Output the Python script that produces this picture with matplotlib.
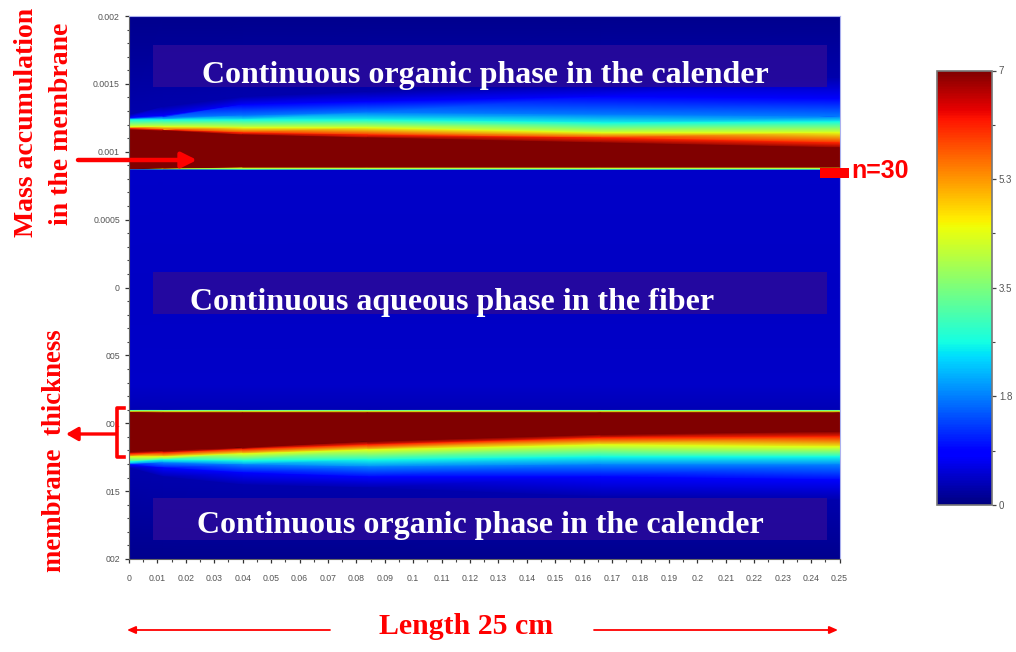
import numpy as np
import matplotlib
matplotlib.use('Agg')
import matplotlib.pyplot as plt
from matplotlib.patches import Rectangle

# axial stations along the fiber (m)
stations = [0, 0.012, 0.04, 0.084, 0.166, 0.25]

# concentration carried by each row of the mesh, top to bottom
row_levels = [0.1, 0.3, 0.9, 1.75, 2.6, 4.4, 6.1, 7, 7, 4.4, 3.0, 0.46, 0.43, 0.46, 0.34, 0.34,
              3.0, 4.4, 7, 7, 6.1, 4.4, 2.6, 1.75, 0.9, 0.3, 0.1]

# radial position (mm) of each row at each station
r_top = [2.0, 2.0, 2.0, 2.0, 2.0, 2.0]
r_upper_03 = [1.271, 1.329, 1.403, 1.440, 1.492, 1.543]
r_upper_09 = [1.249, 1.263, 1.344, 1.366, 1.403, 1.388]
r_upper_17 = [1.241, 1.249, 1.263, 1.285, 1.270, 1.256]
r_upper_26 = [1.234, 1.234, 1.234, 1.234, 1.212, 1.219]
r_upper_44 = [1.182, 1.182, 1.175, 1.175, 1.138, 1.138]
r_upper_61 = [1.171, 1.160, 1.138, 1.123, 1.101, 1.064]
r_upper_70 = [1.160, 1.153, 1.123, 1.101, 1.064, 1.028]
r_wall_in = [0.869, 0.873, 0.884, 0.884, 0.884, 0.884]
r_wall_44 = [0.868, 0.871, 0.877, 0.877, 0.877, 0.877]
r_wall_30 = [0.867, 0.869, 0.869, 0.869, 0.869, 0.869]
r_wall_out = [0.866, 0.864, 0.862, 0.862, 0.862, 0.862]
r_mid = [0, 0, 0, 0, 0, 0]
r_mid_low = [-0.718, -0.718, -0.718, -0.718, -0.718, -0.718]
r_low_a = [-0.895, -0.895, -0.895, -0.895, -0.895, -0.895]
r_low_b = [-0.902, -0.902, -0.902, -0.902, -0.902, -0.902]
r_low_30 = [-0.906, -0.906, -0.906, -0.906, -0.906, -0.906]
r_low_44 = [-0.913, -0.913, -0.913, -0.913, -0.913, -0.913]
r_low_wall = [-0.921, -0.924, -0.924, -0.924, -0.924, -0.924]
r_lower_70 = [-1.212, -1.204, -1.182, -1.138, -1.086, -1.064]
r_lower_61 = [-1.226, -1.219, -1.193, -1.160, -1.109, -1.101]
r_lower_44 = [-1.248, -1.248, -1.226, -1.197, -1.160, -1.175]
r_lower_26 = [-1.285, -1.271, -1.278, -1.271, -1.248, -1.248]
r_lower_17 = [-1.300, -1.293, -1.307, -1.322, -1.307, -1.307]
r_lower_09 = [-1.307, -1.330, -1.366, -1.396, -1.396, -1.418]
r_lower_03 = [-1.330, -1.396, -1.455, -1.477, -1.543, -1.565]
r_bottom = [-2.0, -2.0, -2.0, -2.0, -2.0, -2.0]

x_ticks = np.arange(26) / 100
x_labels = ['0', '0.01', '0.02', '0.03', '0.04', '0.05', '0.06', '0.07', '0.08', '0.09',
            '0.1', '0.11', '0.12', '0.13', '0.14', '0.15', '0.16', '0.17', '0.18', '0.19',
            '0.2', '0.21', '0.22', '0.23', '0.24', '0.25']
y_ticks = [0.002, 0.0015, 0.001, 0.0005, 0, -0.0005, -0.001, -0.0015, -0.002]
y_labels = ['0.002', '0.0015', '0.001', '0.0005', '0', '005', '001', '015', '002']
cbar_ticks = [0, 1.75, 3.5, 5.25, 7]
cbar_labels = ['0', '1.8', '3.5', '5.3', '7']
cbar_minor = [0.875, 2.625, 4.375, 6.125]

W, H = 1016, 652


def px_axes(fig, left, top, right, bottom):
    return fig.add_axes([left / W, 1 - bottom / H, (right - left) / W, (bottom - top) / H])


fig = plt.figure(figsize=(W / 100, H / 100), dpi=100)
ax = px_axes(fig, 129, 16, 839.5, 559)

rows = np.array([r_top, r_upper_03, r_upper_09, r_upper_17, r_upper_26, r_upper_44, r_upper_61,
                 r_upper_70, r_wall_in, r_wall_44, r_wall_30, r_wall_out, r_mid, r_mid_low,
                 r_low_a, r_low_b, r_low_30, r_low_44, r_low_wall,
                 r_lower_70, r_lower_61, r_lower_44, r_lower_26, r_lower_17, r_lower_09,
                 r_lower_03, r_bottom])
n_rows, n_cols = rows.shape
X = np.tile(stations, (n_rows, 1))
Z = np.tile(np.array(row_levels)[:, None], (1, n_cols))

# split each cell along one diagonal so the colour bands follow the rows
triangles = []
for i in range(n_rows - 1):
    for j in range(n_cols - 1):
        a = i * n_cols + j
        b = a + 1
        c = a + n_cols
        d = c + 1
        triangles.append([a, b, c])
        triangles.append([c, b, d])
mesh = ax.tripcolor(X.ravel(), rows.ravel() * 1e-3, Z.ravel(), triangles=triangles,
                    shading='gouraud', cmap='jet', vmin=0, vmax=7)

ax.set_xlim(0, 0.25)
ax.set_ylim(-0.002, 0.002)
tick_color = '#555555'
ax.set_xticks(x_ticks, x_labels)
ax.set_yticks(y_ticks, y_labels)
ax.set_xticks(np.arange(51) * 0.005, minor=True)
ax.set_yticks(np.arange(-20, 21) * 1e-4, minor=True)
ax.tick_params(which='major', length=3, width=0.9, color='#333333', labelsize=6.3,
               labelcolor=tick_color)
ax.tick_params(axis='x', which='major', pad=8)
ax.tick_params(axis='y', which='major', pad=3.5)
ax.tick_params(which='minor', length=1.8, width=0.8, color='#444444')
for label in ax.get_xticklabels() + ax.get_yticklabels():
    label.set_family('Liberation Sans')
ax.spines['left'].set_color('#666666')
ax.spines['bottom'].set_color('#666666')
ax.spines['top'].set_color('#aab0ee')
ax.spines['right'].set_color('#aab0ee')

# label boxes laid over the field
for y0, y1 in [(0.001477, 0.001786), (-0.000195, 0.000114), (-0.00186, -0.00155)]:
    ax.add_patch(Rectangle((0.0084, y0), 0.2372, y1 - y0, facecolor='#2a0a9a', edgecolor='none',
                           alpha=0.85, zorder=3))

cax = px_axes(fig, 936.5, 70.5, 992, 505)
cbar = fig.colorbar(mesh, cax=cax)
cbar.set_ticks(cbar_ticks, labels=cbar_labels)
cbar.ax.set_yticks(cbar_minor, minor=True)
cbar.ax.tick_params(which='major', length=3, width=0.9, color='#444444', labelsize=7,
                    labelcolor=tick_color, pad=2)
cbar.ax.tick_params(which='minor', length=2, width=0.8, color='#444444')
for label in cbar.ax.get_yticklabels():
    label.set_family('Liberation Sans')
cbar.outline.set_edgecolor('#777777')
cbar.outline.set_linewidth(1.2)

# everything hand-placed on the picture goes on a full figure overlay in pixels
over = fig.add_axes([0, 0, 1, 1], zorder=5)
over.set_xlim(0, W)
over.set_ylim(H, 0)
over.axis('off')
over.patch.set_alpha(0)

serif = dict(family='Liberation Serif', weight='bold')
over.text(485, 75.5, 'Continuous organic phase in the calender', color='white', fontsize=23,
          ha='center', va='center', **serif)
over.text(452, 302.5, 'Continuous aqueous phase in the fiber', color='white', fontsize=23,
          ha='center', va='center', **serif)
over.text(480, 525.5, 'Continuous organic phase in the calender', color='white', fontsize=23,
          ha='center', va='center', **serif)

over.text(27, 122, 'Mass accumulation', color='red', fontsize=20, rotation=90,
          ha='center', va='center', **serif)
over.text(61, 124, 'in the membrane', color='red', fontsize=20, rotation=90,
          ha='center', va='center', **serif)
over.text(55, 451, 'membrane  thickness', color='red', fontsize=19.3, rotation=90,
          ha='center', va='center', **serif)
over.text(466, 627, 'Length 25 cm', color='red', fontsize=21.5, ha='center', va='center', **serif)
over.text(880, 171, 'n=30', color='red', fontsize=18, weight='bold', family='Liberation Sans',
          ha='center', va='center')

# n=30 marker
over.add_patch(Rectangle((820, 168), 29, 10, facecolor='red', edgecolor='none'))

# mass accumulation arrow
over.annotate('', xy=(197, 160), xytext=(78, 160),
              arrowprops=dict(arrowstyle='-|>,head_length=0.9,head_width=0.45', color='red', lw=3.2,
                              shrinkA=0, shrinkB=0))
# membrane thickness bracket and arrow
over.plot([124, 117, 117, 124], [408, 408, 457, 457], color='red', lw=2.6, solid_joinstyle='round')
over.annotate('', xy=(66, 434), xytext=(116, 434),
              arrowprops=dict(arrowstyle='-|>,head_length=0.7,head_width=0.4', color='red', lw=2.4,
                              shrinkA=0, shrinkB=0))
# length arrows
over.annotate('', xy=(127, 630), xytext=(330, 630),
              arrowprops=dict(arrowstyle='-|>,head_length=0.5,head_width=0.22', color='red', lw=1.3,
                              shrinkA=0, shrinkB=0))
over.annotate('', xy=(838, 630), xytext=(594, 630),
              arrowprops=dict(arrowstyle='-|>,head_length=0.5,head_width=0.22', color='red', lw=1.3,
                              shrinkA=0, shrinkB=0))

fig.savefig('out.png', dpi=100)
